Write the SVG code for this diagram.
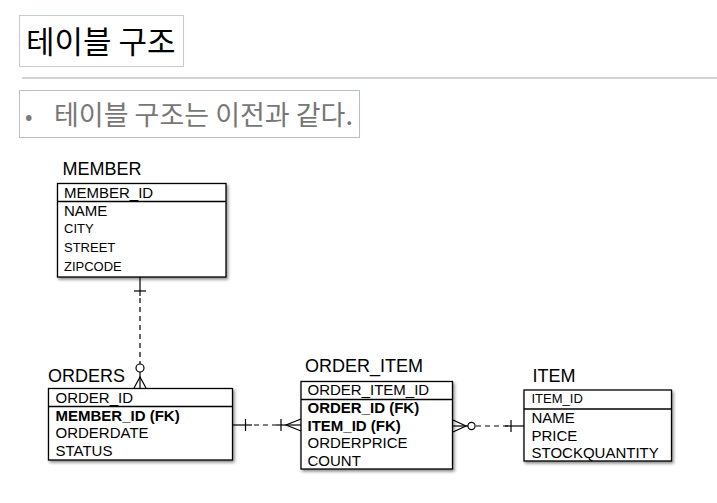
<svg xmlns="http://www.w3.org/2000/svg" width="717" height="503" viewBox="0 0 717 503">
<style>
.ko{font-family:"Noto Sans CJK KR","Noto Sans",sans-serif}
.t{font-family:"Liberation Sans",Arial,sans-serif;font-size:18px;fill:#000}
.r{font-family:"Liberation Sans",Arial,sans-serif;font-size:15px;fill:#000}
.s{font-family:"Liberation Sans",Arial,sans-serif;font-size:13px;fill:#000}
.b{font-weight:bold}
.box{fill:#fff;stroke:#000;stroke-width:1.3}
.div{stroke:#000;stroke-width:1.3}
.ln{stroke:#000;stroke-width:1.2;fill:none}
.dash{stroke-dasharray:5,4}
</style>
<defs>
<filter id="sh" x="-10%" y="-10%" width="125%" height="130%">
<feDropShadow dx="1.5" dy="2" stdDeviation="1.5" flood-color="#000" flood-opacity="0.45"/>
</filter>
</defs>
<rect width="717" height="503" fill="#fff"/>
<g id="title">
<rect x="19.5" y="15.5" width="164" height="51" fill="#fff" stroke="#c5cad6" stroke-width="1"/>
<text class="ko" x="26" y="52.5" font-size="31" fill="#000">테이블 구조</text>
</g>
<line x1="22" y1="78" x2="717" y2="78" stroke="#a8a8a8" stroke-width="1"/>
<g id="bullet">
<rect x="19.5" y="90.5" width="340" height="47" fill="#fff" stroke="#b8bfcc" stroke-width="1"/>
<text class="ko" x="25" y="124" font-size="22" fill="#7a7a7a">•</text>
<text class="ko" x="54" y="124.5" font-size="27" fill="#777">테이블 구조는 이전과 같다.</text>
</g>
<g id="connectors">
<line class="ln" x1="140" y1="277" x2="140" y2="296"/>
<line class="ln" x1="134" y1="291" x2="146" y2="291"/>
<line class="ln dash" x1="140" y1="298" x2="140" y2="364"/>
<circle class="ln" cx="140" cy="368" r="4" fill="#fff"/>
<line class="ln" x1="140" y1="372" x2="140" y2="388"/>
<path class="ln" d="M134,388 L140,377 L146,388"/>
<line class="ln" x1="233" y1="425" x2="252" y2="425"/>
<line class="ln" x1="245.5" y1="419" x2="245.5" y2="431"/>
<line class="ln dash" x1="254" y1="425" x2="276" y2="425"/>
<line class="ln" x1="276" y1="425" x2="301" y2="425"/>
<line class="ln" x1="281" y1="419" x2="281" y2="431"/>
<path class="ln" d="M301,419 L286,425 L301,431"/>
<path class="ln" d="M453,420 L466,426 L453,432"/>
<line class="ln" x1="453" y1="426" x2="468" y2="426"/>
<circle class="ln" cx="471.5" cy="426" r="3.6" fill="#fff"/>
<line class="ln dash" x1="476" y1="426" x2="508" y2="426"/>
<line class="ln" x1="505" y1="426" x2="524" y2="426"/>
<line class="ln" x1="511" y1="420" x2="511" y2="432"/>
</g>
<g id="member">
<text class="t" x="62.5" y="175">MEMBER</text>
<rect class="box" x="57.5" y="183.5" width="168.5" height="93.5" filter="url(#sh)"/>
<line class="div" x1="57.5" y1="201.5" x2="226" y2="201.5"/>
<text class="r" x="64" y="197.5" font-size="14.5">MEMBER_ID</text>
<text class="r" x="64" y="216">NAME</text>
<text class="s" x="64" y="233">CITY</text>
<text class="s" x="64" y="252">STREET</text>
<text class="s" x="64" y="270.5">ZIPCODE</text>
</g>
<g id="orders">
<text class="t" x="48" y="381.5">ORDERS</text>
<rect class="box" x="48.5" y="388.5" width="184" height="71.5" filter="url(#sh)"/>
<line class="div" x1="48.5" y1="406.5" x2="232.5" y2="406.5"/>
<text class="r" x="55.5" y="403">ORDER_ID</text>
<text class="r b" x="55.5" y="420.5">MEMBER_ID (FK)</text>
<text class="r" x="55.5" y="438">ORDERDATE</text>
<text class="r" x="55.5" y="456">STATUS</text>
</g>
<g id="order_item">
<text class="t" x="305" y="371.5">ORDER_ITEM</text>
<rect class="box" x="301" y="381.5" width="151.5" height="87.5" filter="url(#sh)"/>
<line class="div" x1="301" y1="399.5" x2="452.5" y2="399.5"/>
<text class="r" x="307.5" y="395">ORDER_ITEM_ID</text>
<text class="r b" x="307.5" y="412.5">ORDER_ID (FK)</text>
<text class="r b" x="307.5" y="430.5">ITEM_ID (FK)</text>
<text class="r" x="307.5" y="448">ORDERPRICE</text>
<text class="r" x="307.5" y="466">COUNT</text>
</g>
<g id="item">
<text class="t" x="532.5" y="381.5">ITEM</text>
<rect class="box" x="524" y="390" width="147.5" height="71" filter="url(#sh)"/>
<line class="div" x1="524" y1="409" x2="671.5" y2="409"/>
<text class="s" x="531.5" y="403">ITEM_ID</text>
<text class="r" x="531.5" y="423">NAME</text>
<text class="r" x="531.5" y="440.5">PRICE</text>
<text class="r" x="531.5" y="458" font-size="14.5">STOCKQUANTITY</text>
</g>
</svg>
